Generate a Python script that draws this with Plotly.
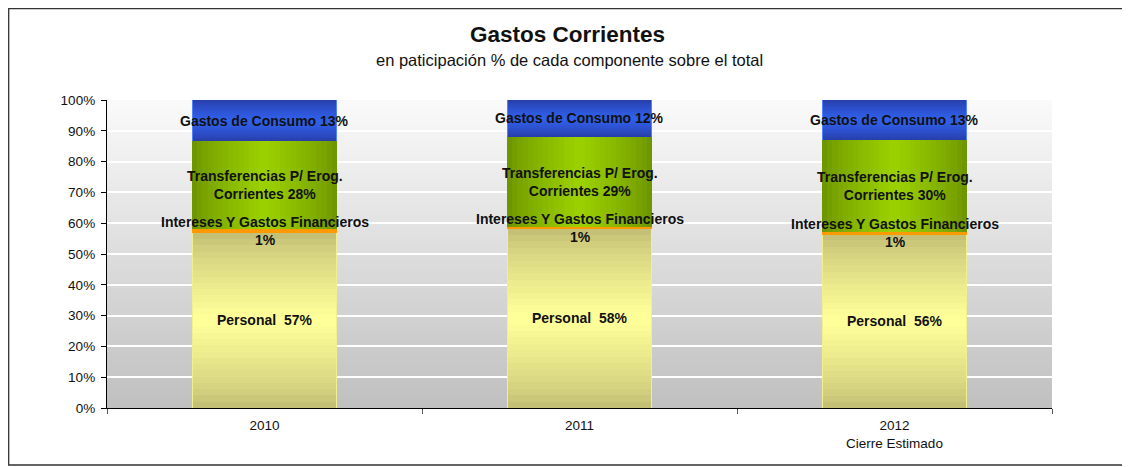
import plotly.graph_objects as go

# ---- data ----
years = ["2010", "2011", "2012"]
year_labels = ["2010", "2011", "2012<br>Cierre Estimado"]
personal = [56.9, 58.3, 56.4]
intereses = [1.3, 0.6, 0.6]
transferencias = [28.4, 29.1, 30.0]
consumo = [13.4, 12.0, 13.0]

seg_names = ["Personal", "Intereses Y Gastos Financieros", "Transferencias P/ Erog. Corrientes", "Gastos de Consumo"]

BAR_W = 0.46
N = 14


def mix(c1, c2, t):
    return "rgb(%d,%d,%d)" % tuple(round(a + (b - a) * t) for a, b in zip(c1, c2))


fig = go.Figure()

bases_p = [0.0] * 3
bases_i = [p for p in personal]
bases_t = [p + i for p, i in zip(personal, intereses)]
bases_c = [p + i + t for p, i, t in zip(personal, intereses, transferencias)]


def vertical_gradient(name, base, vals, edge, center, border=None):
    if border is not None:
        fig.add_trace(go.Bar(x=year_labels, y=vals, base=base, width=BAR_W, name=name,
                             marker=dict(color=border, line=dict(width=0)), showlegend=False, hoverinfo="skip"))
        w = BAR_W - 0.008
    else:
        w = BAR_W
    for k in range(N):
        frac = k / N
        ys = []
        bs = []
        for b, v in zip(base, vals):
            d = v * 0.5 * frac
            bs.append(b + d)
            ys.append(v - 2 * d)
        fig.add_trace(go.Bar(x=year_labels, y=ys, base=bs, width=w, name=name,
                             marker=dict(color=mix(edge, center, (k / (N - 1)) ** 0.8), line=dict(width=0)),
                             showlegend=False, hoverinfo="skip"))


def horizontal_gradient(name, base, vals, edge, center):
    for k in range(N):
        w = BAR_W * (1 - k / N)
        fig.add_trace(go.Bar(x=year_labels, y=vals, base=base, width=w, name=name,
                             marker=dict(color=mix(edge, center, (k / (N - 1)) ** 0.8), line=dict(width=0)),
                             showlegend=False, hoverinfo="skip"))


vertical_gradient(seg_names[0], bases_p, personal, (196, 192, 118), (255, 255, 153), border="rgb(240,240,140)")
fig.add_trace(go.Bar(x=year_labels, y=intereses, base=bases_i, width=BAR_W, name=seg_names[1],
                     marker=dict(color="#ff9900", line=dict(width=0)), showlegend=False, hoverinfo="skip"))
horizontal_gradient(seg_names[2], bases_t, transferencias, (110, 150, 0), (155, 208, 0))
vertical_gradient(seg_names[3], bases_c, consumo, (40, 62, 170), (48, 96, 235), border="rgb(80,130,255)")

# ---- labels ----
font_lbl = dict(family="Liberation Sans, Arial", size=14, color="#111111")
for i in range(len(year_labels)):
    fig.add_annotation(x=i, y=bases_p[i] + personal[i] / 2, text="<b>Personal  %d%%</b>" % round(personal[i]),
                       showarrow=False, font=font_lbl)
    fig.add_annotation(x=i, y=bases_i[i] + intereses[i] / 2,
                       text="<b>Intereses Y Gastos Financieros<br>%d%%</b>" % round(intereses[i]),
                       showarrow=False, font=font_lbl)
    fig.add_annotation(x=i, y=bases_t[i] + transferencias[i] / 2,
                       text="<b>Transferencias P/ Erog.<br>Corrientes %d%%</b>" % round(transferencias[i]),
                       showarrow=False, font=font_lbl)
    fig.add_annotation(x=i, y=bases_c[i] + consumo[i] / 2,
                       text="<b>Gastos de Consumo %d%%</b>" % round(consumo[i]),
                       showarrow=False, font=font_lbl)

# ---- background gradient ----
NB = 110
for k in range(NB):
    y0 = 100 * k / NB
    y1 = min(100, 100 * (k + 1) / NB + 0.6)
    t = (k + 0.5) / NB
    c = mix((192, 192, 192), (250, 250, 250), t)
    fig.add_shape(type="rect", xref="x domain", yref="y", x0=0, x1=1, y0=y0, y1=y1,
                  fillcolor=c, line=dict(width=0), layer="below")

# page has an 8px body margin, so figure coordinates are offset by 8px
OFF = 8
W, H = 1130 - OFF, 467 - OFF
L = 107 - OFF
T = 100 - OFF
R = W - (1052 - OFF)
B = H - (408 - OFF)
pw, ph = W - L - R, H - T - B


def px_x(x):
    return (x - OFF - L) / pw


def px_y(y):
    return (H - B - (y - OFF)) / ph


# outer frame
fig.add_shape(type="rect", xref="paper", yref="paper",
              x0=px_x(OFF + 0.7), x1=px_x(1128), y0=px_y(465), y1=px_y(OFF + 0.7),
              line=dict(color="#333333", width=1.3), fillcolor="rgba(0,0,0,0)", layer="below")

fig.update_layout(
    width=W, height=H,
    margin=dict(l=L, r=R, t=T, b=B),
    barmode="overlay",
    bargap=0,
    paper_bgcolor="white",
    plot_bgcolor="white",
    font=dict(family="Liberation Sans, Arial", size=12, color="#111111"),
    showlegend=False,
)
fig.add_annotation(xref="paper", yref="paper", x=px_x(567), y=px_y(34),
                   text="<b>Gastos Corrientes</b>", showarrow=False,
                   font=dict(size=22.5, color="#111111"), xanchor="center", yanchor="middle")
fig.add_annotation(xref="paper", yref="paper", x=px_x(569), y=px_y(60),
                   text="en paticipación % de cada componente sobre el total", showarrow=False,
                   font=dict(size=16.5, color="#111111"), xanchor="center", yanchor="middle")

fig.update_xaxes(type="category", categoryorder="array", categoryarray=year_labels,
                 showline=True, linecolor="black", linewidth=1.3,
                 ticks="outside", tickson="boundaries", ticklen=5, tickcolor="#555555",
                 ticklabelstandoff=5,
                 showgrid=False, tickfont=dict(size=13.5), range=[-0.5, 2.5])
fig.update_yaxes(range=[0, 100], tickvals=list(range(0, 101, 10)),
                 ticktext=["%d%%" % v for v in range(0, 101, 10)],
                 showline=True, linecolor="black", linewidth=1.3,
                 ticks="outside", ticklen=5, tickcolor="black",
                 ticklabelstandoff=3,
                 showgrid=True, gridcolor="white", gridwidth=1.5, zeroline=False,
                 tickfont=dict(size=13.5))

fig.write_html("out.html")
